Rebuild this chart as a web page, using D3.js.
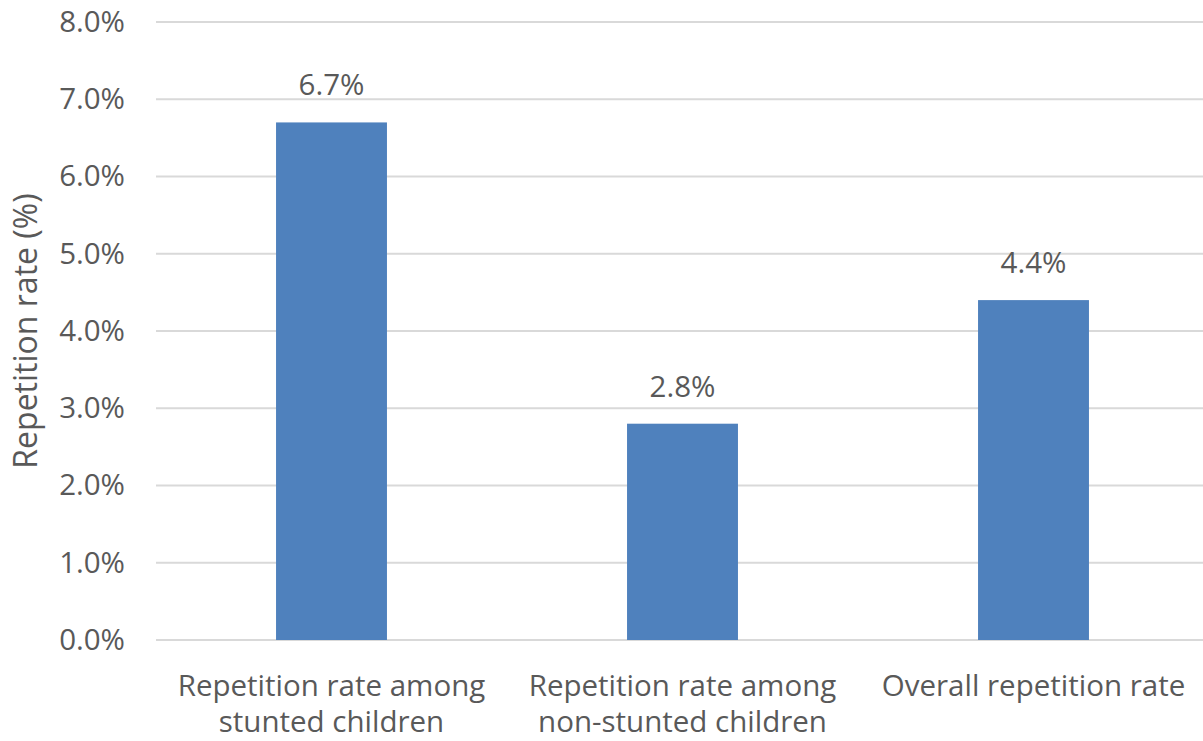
<!DOCTYPE html>
<html>
<head>
<meta charset="utf-8">
<script src="https://cdn.jsdelivr.net/npm/d3@7"></script>
<style>
  body { margin: 0; background: #fff; }
  text { font-family: "Open Sans", sans-serif; fill: #595959; }
</style>
</head>
<body>
<script>
// chart data
var categories = [
    ["Repetition rate among", "stunted children"],
    ["Repetition rate among", "non-stunted children"],
    ["Overall repetition rate"]
];
var values = [6.7, 2.8, 4.4];
var yTicks = [0, 1, 2, 3, 4, 5, 6, 7, 8];

var width = 1203, height = 741;
var margin = {top: 22, right: -6, bottom: 101, left: 156};
var innerW = width - margin.left - margin.right,
    innerH = height - margin.top - margin.bottom;

var svg = d3.select("body").append("svg")
    .attr("width", width)
    .attr("height", height);

var g = svg.append("g")
    .attr("transform", "translate(" + margin.left + "," + margin.top + ")");

var x = d3.scaleBand()
    .domain(d3.range(categories.length))
    .range([0, innerW])
    .paddingInner(0.684)
    .paddingOuter(0.342);

var y = d3.scaleLinear().domain([0, 8]).range([innerH, 0]);

// gridlines
g.selectAll("line.grid").data(yTicks).enter()
    .append("line")
    .attr("class", "grid")
    .attr("x1", 0)
    .attr("x2", innerW)
    .attr("y1", d => y(d))
    .attr("y2", d => y(d))
    .attr("stroke", "#d9d9d9")
    .attr("stroke-width", 2);

// y axis labels
var yAxis = d3.axisLeft(y).tickValues(yTicks).tickSize(0).tickPadding(31)
    .tickFormat(d => d.toFixed(1) + "%");
var ya = g.append("g").call(yAxis);
ya.select(".domain").remove();
ya.selectAll("text")
    .attr("font-size", 29.5)
    .attr("font-family", "Open Sans, sans-serif")
    .attr("fill", "#595959");

// bars
g.selectAll("rect.bar").data(values).enter()
    .append("rect")
    .attr("class", "bar")
    .attr("x", (d, i) => x(i))
    .attr("y", d => y(d))
    .attr("width", x.bandwidth())
    .attr("height", d => innerH - y(d))
    .attr("fill", "#4f81bd");

// value labels
g.selectAll("text.val").data(values).enter()
    .append("text")
    .attr("class", "val")
    .attr("x", (d, i) => x(i) + x.bandwidth() / 2)
    .attr("y", d => y(d) - 27)
    .attr("text-anchor", "middle")
    .attr("font-size", 29.5)
    .text(d => d.toFixed(1) + "%");

// category labels
var cat = g.selectAll("text.cat").data(categories).enter()
    .append("text")
    .attr("class", "cat")
    .attr("text-anchor", "middle")
    .attr("font-size", 29.5)
    .attr("transform", (d, i) => "translate(" + (x(i) + x.bandwidth() / 2) + "," + (innerH + 56) + ")");
cat.selectAll("tspan").data(d => d).enter()
    .append("tspan")
    .attr("x", 0)
    .attr("y", (d, i) => i * 36)
    .text(d => d);

// y axis title
svg.append("text")
    .attr("transform", "translate(37," + (margin.top + innerH / 2) + ") rotate(-90)")
    .attr("text-anchor", "middle")
    .attr("font-size", 32)
    .text("Repetition rate (%)");
</script>
</body>
</html>
